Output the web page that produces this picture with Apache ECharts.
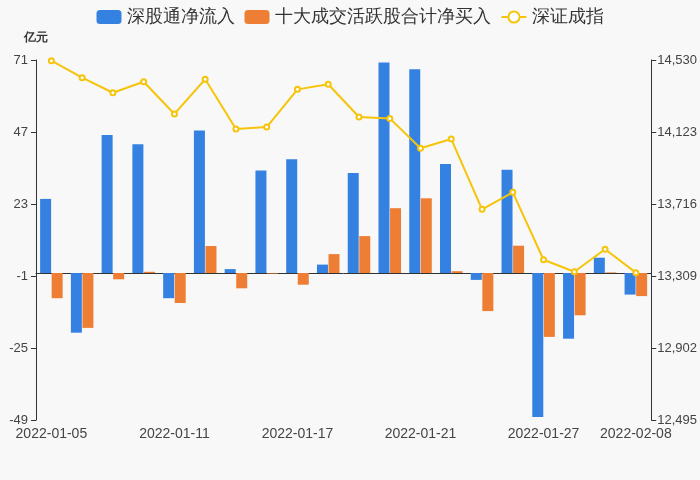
<!DOCTYPE html>
<html>
<head>
<meta charset="utf-8">
<script src="https://cdn.jsdelivr.net/npm/echarts@6/dist/echarts.min.js"></script>
<style>
html,body{margin:0;padding:0;background:#f8f8f8;}
#c{width:700px;height:480px;}
</style>
</head>
<body>
<div id="c"></div>
<script>
const categories = ['2022-01-05','2022-01-06','2022-01-07','2022-01-10','2022-01-11','2022-01-12','2022-01-13','2022-01-14','2022-01-17','2022-01-18','2022-01-19','2022-01-20','2022-01-21','2022-01-24','2022-01-25','2022-01-26','2022-01-27','2022-01-28','2022-02-07','2022-02-08'];
const sgtNetInflow = [24.7,-19.9,46.0,42.9,-8.4,47.5,1.3,34.2,37.9,2.8,33.3,70.2,67.9,36.3,-2.3,34.4,-48.0,-21.9,5.1,-7.2];
const top10NetBuy = [-8.4,-18.3,-2.1,0.4,-10.0,9.0,-5.1,-0.2,-3.9,6.3,12.3,21.6,24.9,0.6,-12.7,9.1,-21.3,-14.1,0.2,-7.7];
const szIndex = [14526,14430,14345,14407,14225,14421,14140,14151,14364,14393,14208,14200,14031,14083,13686,13782,13401,13333,13460,13328];
const labelIdx = [0,4,8,12,16,19];

const chart = echarts.init(document.getElementById('c'));
const showIdx = function(i){ return labelIdx.indexOf(i) >= 0; };
chart.setOption({
  backgroundColor: '#f8f8f8',
  animation: false,
  legend: {
    top: 3,
    itemWidth: 25,
    itemHeight: 14,
    itemGap: 10,
    textStyle: {fontSize: 18, color: '#333'},
    data: ['深股通净流入','十大成交活跃股合计净买入','深证成指']
  },
  grid: {left: 36, right: 48, top: 60, bottom: 60},
  xAxis: [{
    type: 'category',
    data: categories,
    axisLine: {onZero: true, lineStyle: {color: '#333'}},
    axisTick: {interval: showIdx, lineStyle: {color: '#333'}},
    axisLabel: {show: false}
  }, {
    type: 'category',
    data: categories,
    position: 'bottom',
    axisLine: {show: false, onZero: false},
    axisTick: {show: false},
    axisLabel: {interval: showIdx, fontSize: 14, color: '#444', margin: 7}
  }],
  yAxis: [{
    type: 'value',
    name: '亿元',
    nameGap: 16,
    nameTextStyle: {fontWeight: 'bold', fontSize: 12, color: '#333'},
    min: -49, max: 71, interval: 24,
    axisLine: {show: true, lineStyle: {color: '#333'}},
    axisTick: {show: true, lineStyle: {color: '#333'}},
    splitLine: {show: false},
    axisLabel: {fontSize: 13, color: '#444', margin: 8}
  }, {
    type: 'value',
    position: 'right',
    min: 12495, max: 14530, interval: 407,
    axisLine: {show: true, lineStyle: {color: '#333'}},
    axisTick: {show: true, lineStyle: {color: '#333'}},
    splitLine: {show: false},
    axisLabel: {fontSize: 13, color: '#444', margin: 6}
  }],
  series: [{
    name: '深股通净流入',
    type: 'bar',
    data: sgtNetInflow,
    barWidth: 11,
    barGap: '5%',
    itemStyle: {color: '#3481e2'}
  }, {
    name: '十大成交活跃股合计净买入',
    type: 'bar',
    data: top10NetBuy,
    barWidth: 11,
    itemStyle: {color: '#ee7e33'}
  }, {
    name: '深证成指',
    type: 'line',
    yAxisIndex: 1,
    data: szIndex,
    symbol: 'emptyCircle',
    symbolSize: 5,
    lineStyle: {width: 2, color: '#f6c40a'},
    itemStyle: {color: '#f6c40a'}
  }]
});
</script>
</body>
</html>
